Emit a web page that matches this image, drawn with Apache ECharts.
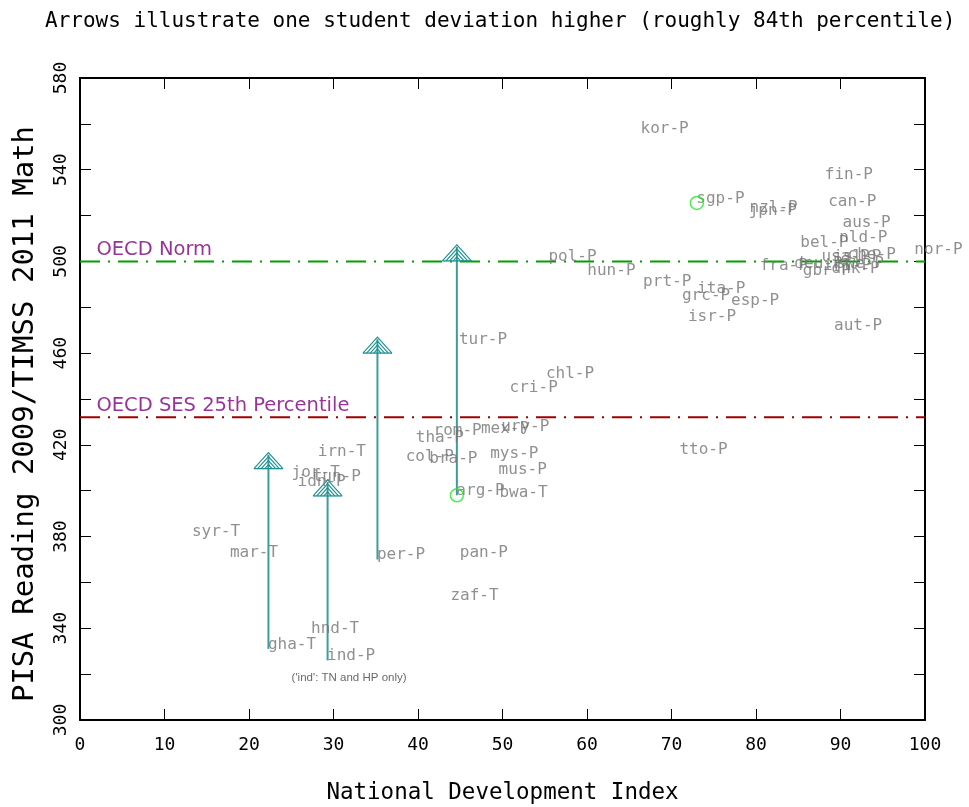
<!DOCTYPE html>
<html><head><meta charset="utf-8">
<script src="https://cdn.jsdelivr.net/npm/echarts@6/dist/echarts.min.js"></script>
<style>html,body{margin:0;padding:0;background:#fff}#c{width:969px;height:807px}</style>
</head><body><div id="c"></div>
<script>
// ---- data ----
const countryNames = ['kor-P','fin-P','sgp-P','can-P','nzl-P','jpn-P','aus-P','nld-P','bel-P','nor-P','che-P','usa-P','isl-P','pol-P','swe-P','deu-P','irl-P','fra-P','dnk-P','gbr-P','hun-P','prt-P','ita-P','grc-P','esp-P','isr-P','aut-P','tur-P','chl-P','cri-P','ury-P','mex-P','rom-P','tha-P','tto-P','irn-T','mys-P','col-P','bra-P','mus-P','jor-T','tun-P','idn-P','arg-P','bwa-T','syr-T','mar-T','pan-P','per-P','zaf-T','hnd-T','gha-T','ind-P'];
const countryX = [66.4,88.2,73.0,88.6,79.3,79.2,90.3,89.9,85.3,98.8,90.9,87.8,89.2,55.5,89.5,84.6,88.0,80.5,89.0,85.6,60.1,66.7,73.1,71.3,77.1,72.0,89.3,44.9,55.2,50.9,49.9,47.5,41.9,39.8,71.0,28.2,48.6,38.6,41.4,49.6,25.1,27.6,25.8,44.6,49.7,13.3,17.8,45.0,35.2,43.9,27.4,22.3,29.3];
const countryY = [556,536,525.5,524,521.5,520,515,508.5,506,503,501,500,500,500,497,497,496,496,495,494,494,489,486,483,481,474,470,464,449,443,426,425,424,421,416,415,414,413,412,407,406,404,402,398,397,380,371,371,370,352,338,331,326];
const circledNames = ['sgp-P','arg-P'];
const arrowNames = ['gha-T','ind-P','per-P','arg-P'];
const arrowTop = [416.6, 404.7, 467, 507.2];
const refLevels = [500, 432];
const refNames = ['OECD Norm', 'OECD SES 25th Percentile'];
const refColors = ['#00a000', '#a00000'];
const refLabelX = 2.0;
const noteText = "('ind': TN and HP only)";
const notePos = [25.1, 318];
const titleText = 'Arrows illustrate one student deviation higher (roughly 84th percentile)';
const xName = 'National Development Index';
const yName = 'PISA Reading 2009/TIMSS 2011 Math';

// ---- build ----
const MONO = '"DejaVu Sans Mono", monospace';
const idx = n => countryNames.indexOf(n);
const labelData = countryNames.map((n, i) => ({ name: n, value: [countryX[i], countryY[i]] }));
const circleData = circledNames.map(n => [countryX[idx(n)], countryY[idx(n)]]);
const arrowData = arrowNames.map((n, i) => [countryX[idx(n)], countryY[idx(n)], arrowTop[i]]);

function renderArrow(params, api) {
  const p0 = api.coord([api.value(0), api.value(1)]);
  const p1 = api.coord([api.value(0), api.value(2)]);
  const h = 16, w = 14.5, n = 4;
  const col = '#1a9090';
  const children = [{ type: 'line', shape: { x1: p0[0], y1: p0[1], x2: p1[0], y2: p1[1] + 2 }, style: { stroke: '#3a9e9e', lineWidth: 2 } }];
  const baseY = p1[1] + h;
  for (let k = 0; k < n; k++) {
    const f = 1 - k / n;
    const ay = baseY - h * f;
    children.push({ type: 'polyline', shape: { points: [[p1[0] - w * f, baseY], [p1[0], ay], [p1[0] + w * f, baseY]] }, style: { stroke: col, lineWidth: 1.1, fill: null } });
  }
  children.push({ type: 'line', shape: { x1: p1[0] - w, y1: baseY, x2: p1[0] + w, y2: baseY }, style: { stroke: col, lineWidth: 1.3 } });
  return { type: 'group', children };
}

const axisCommonX = {
  type: 'value', min: 0, max: 100, interval: 10,
  axisLine: { show: true, onZero: false, lineStyle: { color: '#000', width: 2 } },
  axisTick: { show: true, inside: true, length: 11, lineStyle: { color: '#000', width: 1 } },
  splitLine: { show: false }
};
const axisCommonY = {
  type: 'value', min: 300, max: 580, interval: 20,
  axisLine: { show: true, onZero: false, lineStyle: { color: '#000', width: 2 } },
  axisTick: { show: true, inside: true, length: 11, lineStyle: { color: '#000', width: 1 } },
  splitLine: { show: false }
};

const series = [];
refLevels.forEach((lv, i) => {
  series.push({
    type: 'line', data: [[0, lv], [100, lv]], symbol: 'none', silent: true, z: 2,
    lineStyle: { color: refColors[i], width: 2, type: [20, 8, 2, 8] }
  });
});
series.push({
  type: 'scatter', data: refNames.map((n, i) => ({ name: n, value: [refLabelX, refLevels[i]] })),
  symbolSize: 1, itemStyle: { color: 'rgba(0,0,0,0)' }, z: 3,
  label: { show: true, formatter: '{b}', position: [0, -1], align: 'left', verticalAlign: 'bottom',
    color: '#800080', fontFamily: '"DejaVu Sans", sans-serif', fontSize: 19.5 }
});
series.push({ type: 'custom', renderItem: renderArrow, data: arrowData, encode: { x: 0, y: [1, 2] }, z: 4, silent: true });
series.push({
  type: 'scatter', data: labelData, symbolSize: 1, itemStyle: { color: 'rgba(0,0,0,0)' }, z: 5,
  label: { show: true, formatter: '{b}', position: [0, -4], align: 'left', verticalAlign: 'middle',
    color: '#747474', fontFamily: MONO, fontSize: 16 }
});
series.push({
  type: 'scatter', data: circleData, symbol: 'circle', symbolSize: 13, z: 6,
  itemStyle: { color: 'rgba(0,0,0,0)', borderColor: '#22e822', borderWidth: 1.5 }
});
series.push({
  type: 'scatter', data: [{ name: noteText, value: notePos }], symbolSize: 1, itemStyle: { color: 'rgba(0,0,0,0)' }, z: 5,
  label: { show: true, formatter: '{b}', position: [0, 0], align: 'left', verticalAlign: 'middle',
    color: '#444', fontFamily: '"Liberation Sans", sans-serif', fontSize: 11.5 }
});

const chart = echarts.init(document.getElementById('c'), null, { renderer: 'canvas' });
chart.setOption({
  animation: false,
  backgroundColor: '#fff',
  title: { text: titleText, left: 40, top: 6, textStyle: { fontFamily: MONO, fontSize: 21, fontWeight: 'normal', color: '#000' } },
  grid: { left: 80, right: 44, top: 78, bottom: 87, containLabel: false, outerBoundsMode: 'none' },
  xAxis: [
    Object.assign({}, axisCommonX, { position: 'bottom',
      axisLabel: { fontFamily: MONO, fontSize: 18, color: '#000', margin: 16 },
      name: xName, nameLocation: 'middle', nameGap: 62,
      nameTextStyle: { fontFamily: MONO, fontSize: 22.5, color: '#000' } }),
    Object.assign({}, axisCommonX, { position: 'top', axisLabel: { show: false } })
  ],
  yAxis: [
    Object.assign({}, axisCommonY, { position: 'left',
      axisLabel: { rotate: 90, fontFamily: MONO, fontSize: 18, color: '#000', margin: 10,
        formatter: v => ((v - 300) % 40 === 0 ? String(v) : '') } }),
    Object.assign({}, axisCommonY, { position: 'right', axisLabel: { show: false } })
  ],
  graphic: [{
    type: 'text', x: 25, y: 414, rotation: Math.PI / 2,
    style: { text: yName, fill: '#000', font: '29px "DejaVu Sans Mono", monospace', align: 'center', verticalAlign: 'middle', textAlign: 'center', textVerticalAlign: 'middle' }
  }],
  series: series
});
</script></body></html>
